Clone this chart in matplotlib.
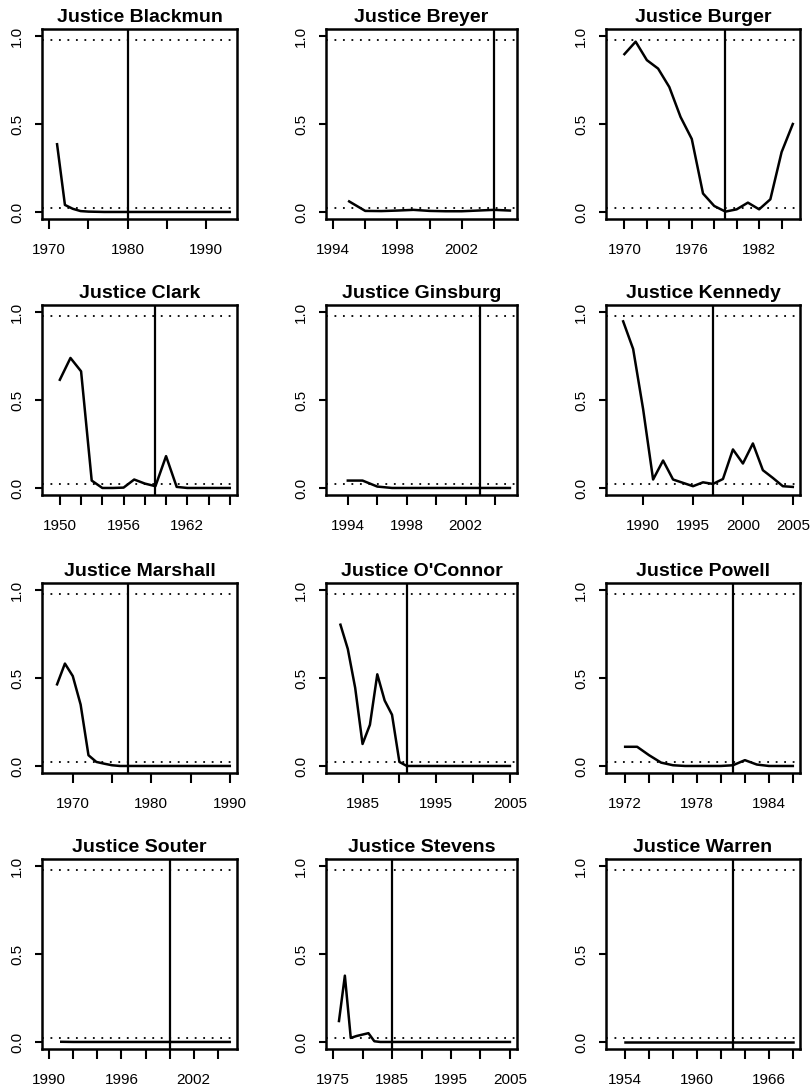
import numpy as np
import matplotlib.pyplot as plt

plt.rcParams['font.family'] = ['Liberation Sans', 'DejaVu Sans']

# one panel per justice, in reading order
names = ['Blackmun', 'Breyer', 'Burger', 'Clark', 'Ginsburg', 'Kennedy',
         'Marshall', "O'Connor", 'Powell', 'Souter', 'Stevens', 'Warren']

# first year of each series has no estimate (kept for the axis range)
first_years = [1970, 1994, 1969, 1949, 1993, 1987, 1967, 1981, 1971, 1990, 1975, 1953]

blackmun = [0.385, 0.04, 0.018, 0.005, 0.002, 0.001, 0.0, 0.0, 0.0, 0.0, 0.0, 0.0,
            0.0, 0.0, 0.0, 0.0, 0.0, 0.0, 0.0, 0.0, 0.0, 0.0, 0.0]
breyer = [0.06, 0.006, 0.005, 0.008, 0.012, 0.006, 0.004, 0.004, 0.008, 0.012, 0.008]
burger = [0.897, 0.968, 0.863, 0.815, 0.71, 0.54, 0.415, 0.105, 0.034, 0.002,
          0.015, 0.053, 0.015, 0.072, 0.34, 0.50]
clark = [0.615, 0.739, 0.663, 0.042, 0.0, 0.0, 0.002, 0.048, 0.025, 0.01, 0.181,
         0.006, 0.0, 0.0, 0.0, 0.0, 0.0]
ginsburg = [0.042, 0.042, 0.008, 0.0, 0.0, 0.0, 0.0, 0.0, 0.0, 0.0, 0.0, 0.0]
kennedy = [0.947, 0.79, 0.448, 0.048, 0.156, 0.048, 0.029, 0.01, 0.032, 0.023,
           0.051, 0.219, 0.139, 0.253, 0.101, 0.057, 0.01, 0.006]
marshall = [0.464, 0.582, 0.511, 0.349, 0.061, 0.023, 0.013, 0.004, 0.0, 0.0, 0.0,
            0.0, 0.0, 0.0, 0.0, 0.0, 0.0, 0.0, 0.0, 0.0, 0.0, 0.0, 0.0]
oconnor = [0.803, 0.665, 0.444, 0.125, 0.234, 0.521, 0.372, 0.291, 0.023, 0.0,
           0.0, 0.0, 0.0, 0.0, 0.0, 0.0, 0.0, 0.0, 0.0, 0.0, 0.0, 0.0, 0.0, 0.0]
powell = [0.109, 0.109, 0.061, 0.019, 0.004, 0.0, 0.0, 0.0, 0.0, 0.004, 0.033,
          0.008, 0.0, 0.0, 0.0]
souter = [0.001, 0.0, 0.0, 0.0, 0.0, 0.0, 0.0, 0.0, 0.0, 0.0, 0.0, 0.0, 0.0, 0.0, 0.0]
stevens = [0.119, 0.377, 0.023, 0.034, 0.042, 0.05, 0.004, 0.0, 0.0, 0.0, 0.0,
           0.0, 0.0, 0.0, 0.0, 0.0, 0.0, 0.0, 0.0, 0.0, 0.0, 0.0, 0.0, 0.0, 0.0,
           0.0, 0.0, 0.0, 0.0, 0.0]
warren = [0.0, 0.0, 0.0, 0.0, 0.0, 0.0, 0.0, 0.0, 0.0, 0.0, 0.0, 0.0, 0.0, 0.0, 0.0]

series = [blackmun, breyer, burger, clark, ginsburg, kennedy,
          marshall, oconnor, powell, souter, stevens, warren]

# year of the vertical reference line
break_years = [1980, 2004, 1979, 1959, 2003, 1997, 1977, 1991, 1981, 2000, 1985, 1963]

x_ticks = [
    [1970, 1975, 1980, 1985, 1990],
    [1994, 1996, 1998, 2000, 2002, 2004],
    [1970, 1972, 1974, 1976, 1978, 1980, 1982, 1984],
    [1950, 1952, 1954, 1956, 1958, 1960, 1962, 1964, 1966],
    [1994, 1996, 1998, 2000, 2002, 2004],
    [1990, 1995, 2000, 2005],
    [1970, 1975, 1980, 1985, 1990],
    [1985, 1990, 1995, 2000, 2005],
    [1972, 1974, 1976, 1978, 1980, 1982, 1984, 1986],
    [1990, 1992, 1994, 1996, 1998, 2000, 2002, 2004],
    [1975, 1980, 1985, 1990, 1995, 2000, 2005],
    [1954, 1956, 1958, 1960, 1962, 1964, 1966, 1968],
]
x_labeled = [
    [1970, 1980, 1990],
    [1994, 1998, 2002],
    [1970, 1976, 1982],
    [1950, 1956, 1962],
    [1994, 1998, 2002],
    [1990, 1995, 2000, 2005],
    [1970, 1980, 1990],
    [1985, 1995, 2005],
    [1972, 1978, 1984],
    [1990, 1996, 2002],
    [1975, 1985, 1995, 2005],
    [1954, 1960, 1966],
]

W, H = 812, 1085
col_left = [42, 326, 606]
col_width = [195, 191, 194]
row_top = [29, 305, 583, 859]
panel_h = 190

fig = plt.figure(figsize=(W / 100, H / 100), dpi=100)

for i, name in enumerate(names):
    r, c = divmod(i, 3)
    ax = fig.add_axes([col_left[c] / W, 1 - (row_top[r] + panel_h) / H,
                       col_width[c] / W, panel_h / H])

    vals = series[i]
    years = first_years[i] + 1 + np.arange(len(vals))
    x0, x1 = first_years[i], years[-1]
    pad = 0.04 * (x1 - x0)

    ax.plot(years, vals, color='black', lw=1.8, solid_joinstyle='round')
    ax.axhline(0.975, color='black', lw=1.3, ls=(0, (1, 3.7)))
    ax.axhline(0.025, color='black', lw=1.3, ls=(0, (1, 3.7)))
    ax.axvline(break_years[i], color='black', lw=1.6)

    ax.set_xlim(x0 - pad, x1 + pad)
    ax.set_ylim(-0.04, 1.04)
    ax.set_xticks(x_ticks[i])
    ax.set_xticklabels([str(t) if t in x_labeled[i] else '' for t in x_ticks[i]],
                       fontsize=11)
    ax.set_yticks([0.0, 0.5, 1.0])
    ax.set_yticklabels(['0.0', '0.5', '1.0'], rotation=90, va='center', fontsize=11)
    ax.tick_params(axis='x', direction='out', length=7, width=1.5, pad=10)
    ax.tick_params(axis='y', direction='out', length=5, width=1.5, pad=8)
    for sp in ax.spines.values():
        sp.set_linewidth(1.8)
    ax.set_title('Justice ' + name, fontsize=14, fontweight='bold', pad=5)

fig.savefig('out.png', dpi=100)
